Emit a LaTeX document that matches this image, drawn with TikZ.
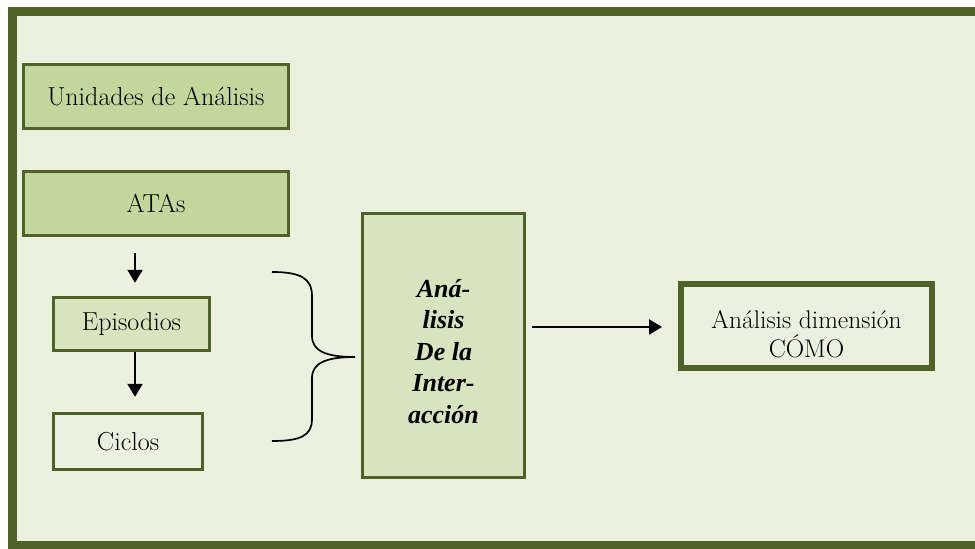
\documentclass[tikz,border=0pt]{standalone}
\usepackage{fontspec}
\usetikzlibrary{arrows.meta}
\newfontfamily\heavyserif{Liberation Serif}
\definecolor{frameolive}{HTML}{4F6228}
\definecolor{paleback}{HTML}{EBF1DE}
\definecolor{midgreen}{HTML}{C3D69B}
\definecolor{lightgreen}{HTML}{D7E4BD}
\tikzset{
  box/.style={draw=frameolive, line width=3.4pt, align=center, inner sep=0pt,
    font=\fontsize{26}{31}\selectfont},
  arrowline/.style={line width=2pt, -{Triangle[length=13pt,width=15pt]}},
  bracepath/.style={line width=1.7pt},
}
\begin{document}
\begin{tikzpicture}[x=1pt,y=-1pt]
  \useasboundingbox (0,0) rectangle (975,549);
  \fill[white] (0,0) rectangle (975,549);
  % outer panel
  \fill[paleback] (12.5,11) rectangle (990,545);
  \draw[frameolive, line width=9pt] (990,11) -- (12.5,11) -- (12.5,545) -- (990,545);

  % left column
  \node[box, fill=midgreen, minimum width=264.5pt, minimum height=63.5pt] (unid) at (156,96.5) {Unidades de Análisis};
  \node[box, fill=midgreen, minimum width=264.5pt, minimum height=63.5pt] (atas) at (156,203.5) {ATAs};
  \node[box, fill=lightgreen, minimum width=156pt, minimum height=53pt] (epi) at (131.5,324) {Episodios};
  \node[box, fill=paleback, minimum width=149pt, minimum height=56pt] (cic) at (128,441.5) {Ciclos};

  % central block (text placed a little below the centre)
  \node[box, fill=lightgreen, line width=3pt, minimum width=162pt, minimum height=264pt] (big) at (443.5,345.5) {};
  \node[align=center, inner sep=0pt, font=\fontsize{26}{31.5}\selectfont\heavyserif\bfseries\itshape]
        (bigtext) at ([yshift=-6pt]big.center) {Aná-\\lisis\\De la\\Inter-\\acción};

  % result block
  \node[box, fill=paleback, line width=6pt, minimum width=251pt, minimum height=84pt] (como) at (806.5,326) {};
  \node[align=center, inner sep=0pt, font=\fontsize{25.5}{29}\selectfont]
        (comotext) at ([yshift=-8pt]como.center) {Análisis dimensión\\CÓMO};

  % connectors
  \coordinate (colx) at (135,0);
  \draw[arrowline] ([yshift=-16pt]atas.south -| colx) -- ([yshift=13pt]epi.north -| colx);
  \draw[arrowline] (epi.south -| colx) -- ([yshift=15pt]cic.north -| colx);
  \coordinate (arrowy) at (0,327);
  \draw[arrowline] ([xshift=6pt]big.east |- arrowy) -- ([xshift=-16pt]como.west |- arrowy);

  % brace grouping the units
  \coordinate (bracetop) at (272,272);
  \coordinate (bracebot) at (272,441);
  \coordinate (bracetip) at (355,357);
  \draw[bracepath] (bracetop) .. controls (300,272) and (312,278) .. (312,296)
    -- (312,336) .. controls (312,351) and (326,357) .. (bracetip)
    .. controls (326,357) and (312,363) .. (312,378)
    -- (312,419) .. controls (312,436) and (300,441) .. (bracebot);
\end{tikzpicture}
\end{document}
